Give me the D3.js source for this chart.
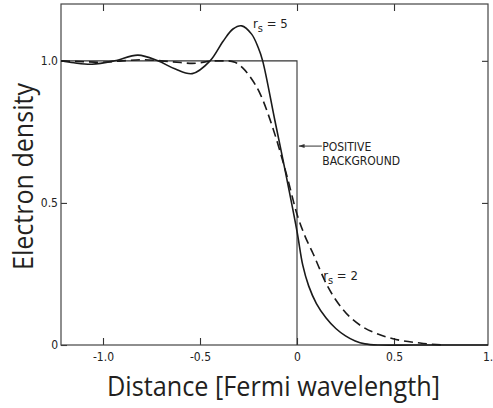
<!DOCTYPE html>
<html>
<head>
<meta charset="utf-8">
<script src="https://cdn.jsdelivr.net/npm/d3@7"></script>
<style>
    body { margin: 0; background: #fff; }
    .tick text { font-family: "Liberation Sans Narrow", "DejaVu Sans Condensed", sans-serif; font-size: 12px; fill: #222; }
    .tick line { stroke: #333; stroke-width: 1.1; }
    .curve { fill: none; stroke: #1a1a1a; stroke-width: 1.6; }
    .note { font-family: "Liberation Sans Narrow", "DejaVu Sans Condensed", sans-serif; fill: #222; }
    .title { font-family: "Open Sans", "Noto Sans", sans-serif; font-size: 28px; fill: #231f20; }
</style>
</head>
<body>
<div id="wrapper"></div>
<script>
// r_s = 5 (solid)
const rs5X = [-1.2165, -1.15, -1.057, -0.94, -0.82, -0.717, -0.63, -0.54, -0.448, -0.38, -0.33, -0.285, -0.234, -0.2, -0.177, -0.114, -0.06, 0, 0.03, 0.06, 0.1, 0.15, 0.2, 0.25, 0.3, 0.35, 0.42, 0.6, 0.9845];
const rs5Y = [1.0, 0.993, 0.988, 1.0, 1.02, 1.0, 0.972, 0.955, 1.0, 1.07, 1.112, 1.123, 1.094, 1.047, 1.0, 0.79, 0.61, 0.40, 0.28, 0.208, 0.146, 0.095, 0.058, 0.032, 0.014, 0.004, 0.0, 0.0, 0.0];

// r_s = 2 (dashed)
const rs2X = [-1.2165, -1.1, -1.0, -0.9, -0.8, -0.7, -0.6, -0.54, -0.42, -0.36, -0.32, -0.28, -0.24, -0.19, -0.13, -0.05, 0, 0.04, 0.082, 0.155, 0.237, 0.34, 0.42, 0.495, 0.634, 0.75];
const rs2Y = [1.0, 0.997, 0.995, 1.0, 1.004, 1.0, 0.994, 0.991, 1.0, 1.0, 0.995, 0.975, 0.942, 0.884, 0.775, 0.59, 0.46, 0.385, 0.323, 0.21, 0.125, 0.063, 0.038, 0.022, 0.007, 0.0];

// positive background (step)
const bgX = [-1.2165, 0, 0];
const bgY = [1.0, 1.0, 0.0];

const xTicks = [-1.0, -0.5, 0, 0.5, 1.0];
const xTickLabels = ["-1.0", "-0.5", "0", "0.5", "1.0"];
const yTicks = [0, 0.5, 1.0];
const yTickLabels = ["0", "0.5", "1.0"];

const dimensions = {
    width: 493,
    height: 408,
    margin: {
        top: 4,
        right: 5,
        bottom: 63,
        left: 61,
    },
}

dimensions.boundedWidth = dimensions.width - dimensions.margin.left - dimensions.margin.right;
dimensions.boundedHeight = dimensions.height - dimensions.margin.top - dimensions.margin.bottom;

const wrapper = d3.select("#wrapper")
    .append("svg")
    .attr("width", dimensions.width)
    .attr("height", dimensions.height);

const bounds = wrapper.append("g")
    .attr("transform", `translate(${dimensions.margin.left},${dimensions.margin.top})`);

const xScale = d3.scaleLinear()
    .domain([-1.2165, 0.9845])
    .range([0, dimensions.boundedWidth]);

const yScale = d3.scaleLinear()
    .domain([0, 1.2])
    .range([dimensions.boundedHeight, 0]);

const inside = v => v >= xScale.domain()[0] && v <= xScale.domain()[1];

// axes, ticks pointing inward
const xAxis = bounds.append("g")
    .attr("transform", `translate(0, ${dimensions.boundedHeight})`)
    .call(d3.axisBottom(xScale)
        .tickValues(xTicks)
        .tickFormat((d, i) => xTickLabels[i])
        .tickSizeInner(-7)
        .tickSizeOuter(0)
        .tickPadding(7));
xAxis.selectAll(".tick line").filter(d => !inside(d)).remove();

bounds.append("g")
    .call(d3.axisTop(xScale)
        .tickValues(xTicks.filter(inside))
        .tickFormat("")
        .tickSizeInner(-7)
        .tickSizeOuter(0));

bounds.append("g")
    .call(d3.axisLeft(yScale)
        .tickValues(yTicks)
        .tickFormat((d, i) => yTickLabels[i])
        .tickSizeInner(-6)
        .tickSizeOuter(0)
        .tickPadding(3));

bounds.append("g")
    .attr("transform", `translate(${dimensions.boundedWidth}, 0)`)
    .call(d3.axisRight(yScale)
        .tickValues([0.5, 1.0])
        .tickFormat("")
        .tickSizeInner(-6)
        .tickSizeOuter(0));

bounds.selectAll(".domain").remove();

bounds.append("rect")
    .attr("width", dimensions.boundedWidth)
    .attr("height", dimensions.boundedHeight)
    .attr("fill", "none")
    .attr("stroke", "#444")
    .attr("stroke-width", 1.2);

const line = d3.line()
    .x(d => xScale(d[0]))
    .y(d => yScale(d[1]));

bounds.append("path")
    .datum(d3.zip(bgX, bgY))
    .attr("fill", "none")
    .attr("stroke", "#333")
    .attr("stroke-width", 1.1)
    .attr("d", line);

bounds.append("path")
    .datum(d3.zip(rs2X, rs2Y))
    .attr("class", "curve")
    .attr("stroke-dasharray", "9,5")
    .attr("d", line.curve(d3.curveMonotoneX));

bounds.append("path")
    .datum(d3.zip(rs5X, rs5Y))
    .attr("class", "curve")
    .attr("d", line.curve(d3.curveCatmullRom.alpha(0.5)));

// labels
const rsLabel = (x, y, val) => {
    const t = bounds.append("text")
        .attr("class", "note")
        .attr("x", xScale(x))
        .attr("y", yScale(y))
        .style("font-size", "13px");
    t.append("tspan").text("r");
    t.append("tspan").attr("dy", 4).style("font-size", "11px").text("s");
    t.append("tspan").attr("dy", -4).text(" = " + val);
};
rsLabel(-0.227, 1.115, "5");
rsLabel(0.135, 0.23, "2");

// positive background arrow
const arrowY = 0.7;
bounds.append("line")
    .attr("x1", xScale(0.128))
    .attr("x2", xScale(0.01))
    .attr("y1", yScale(arrowY))
    .attr("y2", yScale(arrowY))
    .attr("stroke", "#333")
    .attr("stroke-width", 1);
bounds.append("path")
    .attr("d", `M${xScale(0.008)},${yScale(arrowY)} l6,-2 l0,4 z`)
    .attr("fill", "#333");

const note = bounds.append("text")
    .attr("class", "note")
    .attr("x", xScale(0.13))
    .attr("y", yScale(arrowY) + 5)
    .style("font-size", "12px");
note.append("tspan").text("POSITIVE");
note.append("tspan")
    .attr("x", xScale(0.13))
    .attr("dy", 14)
    .text("BACKGROUND");

// axis titles
wrapper.append("text")
    .attr("class", "title")
    .attr("text-anchor", "middle")
    .attr("x", 273.5)
    .attr("y", 396)
    .attr("textLength", 333)
    .attr("lengthAdjust", "spacingAndGlyphs")
    .text("Distance [Fermi wavelength]");

wrapper.append("text")
    .attr("class", "title")
    .attr("text-anchor", "middle")
    .attr("transform", "translate(33, 176.5) rotate(-90)")
    .attr("textLength", 187)
    .attr("lengthAdjust", "spacingAndGlyphs")
    .text("Electron density");
</script>
</body>
</html>
